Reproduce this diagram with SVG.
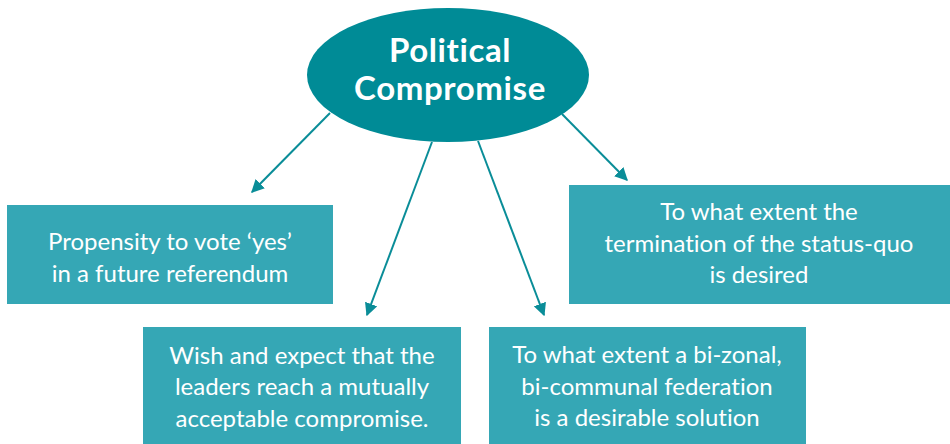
<svg xmlns="http://www.w3.org/2000/svg" width="950" height="444" viewBox="0 0 950 444">
<defs>
<style>
.box{fill:#35A7B5}
.t{font-family:Lato,"Open Sans","Liberation Sans",sans-serif;font-size:24px;fill:#ffffff;text-anchor:middle;font-variant-ligatures:none}
.title{font-family:Lato,"Open Sans","Liberation Sans",sans-serif;font-size:33px;font-weight:bold;fill:#ffffff;text-anchor:middle;font-variant-ligatures:none;letter-spacing:0.6px}
.c{stroke:#0A8D98;stroke-width:2;fill:none;marker-end:url(#ah)}
</style>
<marker id="ah" viewBox="0 0 10 10" refX="9" refY="5" markerWidth="6.5" markerHeight="6.5" markerUnits="strokeWidth" orient="auto">
<path d="M0,0 L10,5 L0,10 z" fill="#0A8D98"/>
</marker>
</defs>
<rect width="950" height="444" fill="#ffffff"/>
<g id="connectors">
<line class="c" x1="330" y1="113" x2="252" y2="192"/>
<line class="c" x1="432" y1="142" x2="367" y2="315"/>
<line class="c" x1="478" y1="141" x2="544" y2="315"/>
<line class="c" x1="562" y1="114" x2="627" y2="180"/>
</g>
<g id="center">
<ellipse cx="448" cy="75" rx="141" ry="67" fill="#008B96"/>
<text class="title" x="450" y="62">Political</text>
<text class="title" x="450" y="100">Compromise</text>
</g>
<g id="n1">
<rect class="box" x="7" y="205" width="326" height="99"/>
<text class="t" x="170" y="250">Propensity to vote ‘yes’</text>
<text class="t" x="170" y="282">in a future referendum</text>
</g>
<g id="n2">
<rect class="box" x="569" y="185" width="381" height="119"/>
<text class="t" x="759" y="220">To what extent the</text>
<text class="t" x="759" y="252">termination of the status-quo</text>
<text class="t" x="759" y="283">is desired</text>
</g>
<g id="n3">
<rect class="box" x="143" y="327" width="318" height="117"/>
<text class="t" x="302" y="364">Wish and expect that the</text>
<text class="t" x="302" y="395">leaders reach a mutually</text>
<text class="t" x="302" y="427">acceptable compromise.</text>
</g>
<g id="n4">
<rect class="box" x="489" y="327" width="317" height="117"/>
<text class="t" x="647" y="363">To what extent a bi-zonal,</text>
<text class="t" x="647" y="395">bi-communal federation</text>
<text class="t" x="647" y="426">is a desirable solution</text>
</g>
</svg>
